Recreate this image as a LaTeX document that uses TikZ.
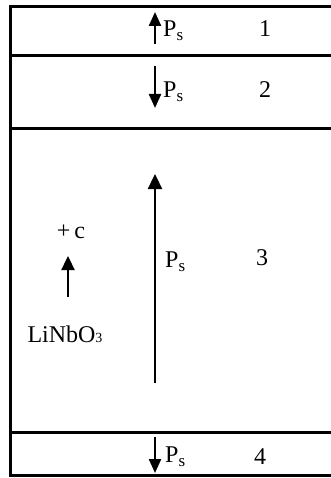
\documentclass[tikz,border=0pt]{standalone}
\usepackage{fontspec}
\setmainfont{Liberation Serif}
\usetikzlibrary{arrows.meta, positioning}

\newcommand{\Psub}{P\raisebox{-0.35ex}{\fontsize{17}{17}\selectfont s}}

\begin{document}
\begin{tikzpicture}[
x=1pt, y=-1pt,
layer/.style={line width=3pt, line join=miter},
arrow/.style={line width=2.3pt, -{Triangle[width=12pt,length=14pt]}},
txt/.style={font=\fontsize{24}{27}\selectfont, inner sep=0pt},
pslabel/.style={txt, anchor=west}
]
\useasboundingbox (0,0) rectangle (331,478);

% layer boundaries
\draw[layer] (331,7) -- (10,7) -- (10,475) -- (331,475);
\draw[layer] (10,56) -- (331,56);
\draw[layer] (10,129) -- (331,129);
\draw[layer] (10,432) -- (331,432);

% arrow ends
\coordinate (tail1) at (155,44);
\coordinate (head1) at (155,12);
\coordinate (tail2) at (155,66);
\coordinate (head2) at (155,108);
\coordinate (tail3) at (155,383);
\coordinate (head3) at (155,174);
\coordinate (tail4) at (155,437);
\coordinate (head4) at (155,473);
\coordinate (tailc) at (68,297);
\coordinate (headc) at (68,256);

\draw [arrow] (tail1) -- (head1);
\draw [arrow] (tail2) -- (head2);
\draw [arrow, -{Triangle[width=14pt,length=15pt]}] (tail3) -- (head3);
\draw [arrow] (tail4) -- (head4);
\draw [arrow, -{Triangle[width=13pt,length=14pt]}] (tailc) -- (headc);

% polarisation labels
\node (ps1) [pslabel] at (163,31) {\Psub};
\node (ps2) [pslabel] at (163,92) {\Psub};
\node (ps3) [pslabel] at (165,262) {\Psub};
\node (ps4) [pslabel] at (165,457) {\Psub};

% layer numbers
\node (n1) [txt] at (265,29) {1};
\node (n2) [txt] at (265,90) {2};
\node (n3) [txt] at (262,258) {3};
\node (n4) [txt] at (260,457) {4};

% crystal axis
\node (cax) [txt] at (71,232) {+\,c};
\node (lnb) [txt] at (65,334) {LiNbO{\fontsize{14}{14}\selectfont 3}};

\end{tikzpicture}
\end{document}
